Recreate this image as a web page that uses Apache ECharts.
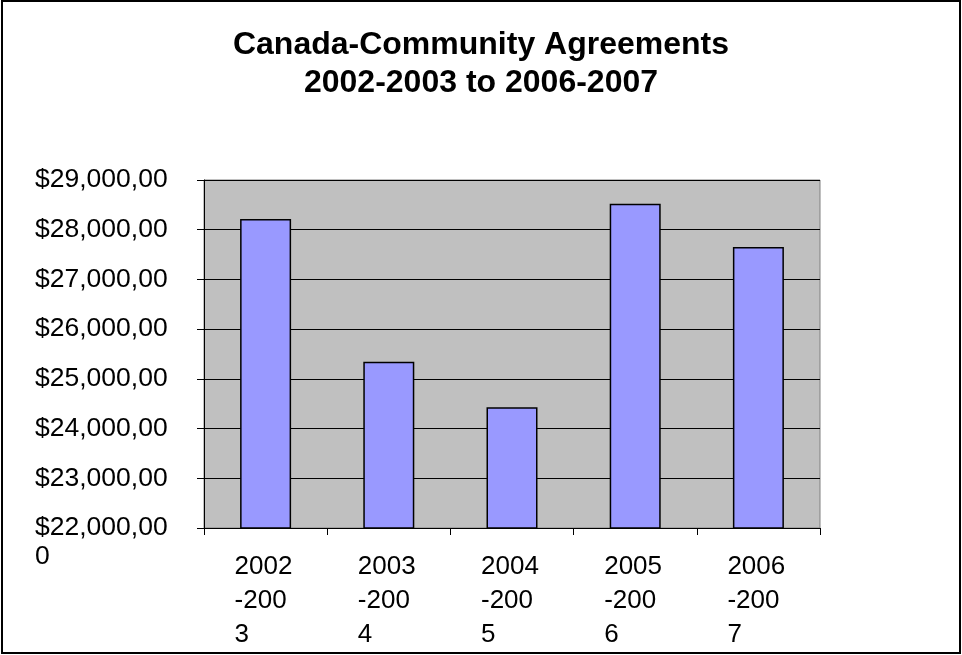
<!DOCTYPE html>
<html>
<head>
<meta charset="utf-8">
<title>Canada-Community Agreements</title>
<script src="https://cdn.jsdelivr.net/npm/echarts@6/dist/echarts.min.js"></script>
<style>
  html, body { margin: 0; padding: 0; background: #ffffff; }
  #chart { width: 962px; height: 655px; }
</style>
</head>
<body>
<div id="chart"></div>
<script>
// Fiscal years shown on the category axis
var categories = ['2002-2003', '2003-2004', '2004-2005', '2005-2006', '2006-2007'];
// Funding amounts per fiscal year (dollars)
var amounts = [28215000, 25345000, 24430000, 28520000, 27650000];
// Value axis range and step
var axisMin = 22000000;
var axisMax = 29000000;
var axisStep = 1000000;

var FONT = 'Liberation Sans, Arial, sans-serif';

function money(v) {
  var s = String(Math.round(v)).replace(/\B(?=(\d{3})+(?!\d))/g, ',');
  return '$' + s;
}

// Category labels wrap like a narrow text box: "2002", "-200", "3"
function wrapCategory(c) {
  return '{c|' + c.slice(0, 4) + '}\n{c|' + c.slice(4, 8) + '}\n{c|' + c.slice(8) + '}';
}

// Value labels wrap after ten characters: first line sits on the tick
function valueHead(v) {
  return '{v|' + money(v).slice(0, 10) + '}';
}

// The carried digit of the lowest value label, drawn on the line below it
function valueTail(v) {
  return v === axisMin ? '{v|' + money(v).slice(10) + '}' : '';
}

var valueRich = {
  v: {
    width: 132,
    align: 'left',
    fontSize: 26.5,
    lineHeight: 30,
    color: '#000000',
    fontFamily: FONT
  }
};

var chart = echarts.init(document.getElementById('chart'), null, { renderer: 'canvas' });

chart.setOption({
  animation: false,
  backgroundColor: '#ffffff',
  textStyle: { fontFamily: FONT },
  title: {
    text: 'Canada-Community Agreements\n2002-2003 to 2006-2007',
    left: 'center',
    top: 21,
    textStyle: {
      fontFamily: FONT,
      fontWeight: 'bold',
      fontSize: 32,
      lineHeight: 38,
      color: '#000000'
    }
  },
  graphic: [
    {
      type: 'rect',
      shape: { x: 2, y: 1, width: 958, height: 652 },
      style: { fill: null, stroke: '#000000', lineWidth: 2 },
      silent: true,
      z: 100
    }
  ],
  grid: {
    left: 204,
    right: 142,
    top: 180,
    bottom: 127,
    show: true,
    backgroundColor: '#c0c0c0',
    borderColor: '#808080',
    borderWidth: 1
  },
  xAxis: {
    type: 'category',
    data: categories,
    axisLine: { show: true, lineStyle: { color: '#000000', width: 1 } },
    axisTick: { show: true, length: 7, alignWithLabel: false, lineStyle: { color: '#000000' } },
    axisLabel: {
      margin: 22,
      formatter: wrapCategory,
      rich: {
        c: {
          width: 62,
          align: 'left',
          fontSize: 26,
          lineHeight: 34,
          color: '#000000',
          fontFamily: FONT
        }
      }
    },
    splitLine: { show: false }
  },
  yAxis: [
    {
      type: 'value',
      min: axisMin,
      max: axisMax,
      interval: axisStep,
      axisLine: { show: true, lineStyle: { color: '#000000', width: 1 } },
      axisTick: { show: true, length: 7, lineStyle: { color: '#000000' } },
      axisLabel: {
        margin: 37,
        showMinLabel: true,
        showMaxLabel: true,
        formatter: valueHead,
        rich: valueRich
      },
      splitLine: { show: true, lineStyle: { color: '#000000', width: 1 } }
    },
    {
      type: 'value',
      position: 'left',
      offset: 0,
      min: axisMin,
      max: axisMax,
      interval: axisStep,
      axisLine: { show: false },
      axisTick: { show: false },
      splitLine: { show: false },
      axisLabel: {
        margin: 37,
        showMinLabel: true,
        verticalAlign: 'top',
        padding: [14, 0, 0, 0],
        formatter: valueTail,
        rich: valueRich
      }
    }
  ],
  series: [
    {
      type: 'bar',
      yAxisIndex: 0,
      data: amounts,
      barWidth: 51,
      itemStyle: {
        color: '#9999ff',
        borderColor: '#000000',
        borderWidth: 1.5
      }
    }
  ]
});
</script>
</body>
</html>
